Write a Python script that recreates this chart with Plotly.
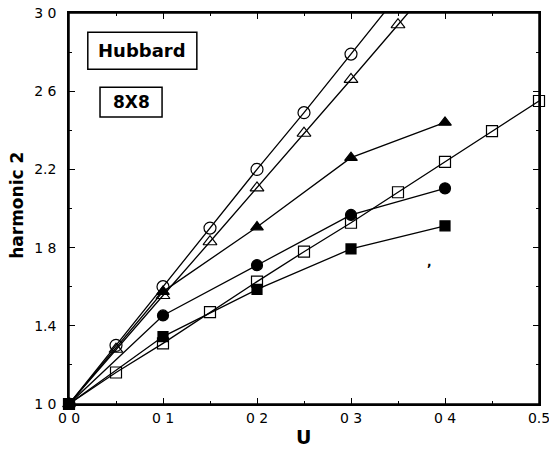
import plotly.graph_objects as go

# ---- data ----
u_circ_open = [0.0, 0.05, 0.10, 0.15, 0.20, 0.25, 0.30, 0.35]
h_circ_open = [1.00, 1.30, 1.60, 1.90, 2.20, 2.49, 2.79, 3.09]

u_tri_open = [0.0, 0.05, 0.10, 0.15, 0.20, 0.25, 0.30, 0.35, 0.40]
h_tri_open = [1.00, 1.28, 1.555, 1.83, 2.105, 2.385, 2.66, 2.94, 3.22]

u_tri_fill = [0.0, 0.10, 0.20, 0.30, 0.40]
h_tri_fill = [1.00, 1.575, 1.905, 2.26, 2.44]

u_circ_fill = [0.0, 0.10, 0.20, 0.30, 0.40]
h_circ_fill = [1.00, 1.453, 1.71, 1.967, 2.103]

u_sq_open = [0.0, 0.05, 0.10, 0.15, 0.20, 0.25, 0.30, 0.35, 0.40, 0.45, 0.50]
h_sq_open = [1.00, 1.161, 1.31, 1.47, 1.626, 1.779, 1.927, 2.083, 2.239, 2.396, 2.55]

u_sq_fill = [0.0, 0.10, 0.20, 0.30, 0.40]
h_sq_fill = [1.00, 1.345, 1.586, 1.793, 1.911]

x_tickvals = [0.0, 0.1, 0.2, 0.3, 0.4, 0.5]
x_ticktext = ["0 0", "0 1", "0 2", "0 3", "0 4", "0.5"]
y_tickvals = [1.0, 1.4, 1.8, 2.2, 2.6, 3.0]
y_ticktext = ["1 0", "1.4", "1 8", "2.2", "2 6", "3 0"]

# ---- figure ----
fig = go.Figure()
line = dict(color="black", width=1.3)

def add(x, y, symbol, size, clip):
    fig.add_trace(go.Scatter(
        x=x, y=y, mode="lines+markers", line=line,
        marker=dict(symbol=symbol, size=size, color="black",
                    line=dict(color="black", width=1.2)),
        cliponaxis=clip, showlegend=False))

add(u_circ_open, h_circ_open, "circle-open", 12, True)
add(u_tri_open, h_tri_open, "triangle-up-open", 12, True)
add(u_tri_fill, h_tri_fill, "triangle-up", 11, False)
add(u_circ_fill, h_circ_fill, "circle", 11, False)
add(u_sq_open, h_sq_open, "square-open", 11, False)
add(u_sq_fill, h_sq_fill, "square", 10, False)

tickfont = dict(family="DejaVu Sans", size=14, color="black")
fig.update_xaxes(
    range=[0, 0.5], tickvals=x_tickvals, ticktext=x_ticktext,
    ticks="inside", ticklen=6, tickwidth=1, tickcolor="black",
    minor=dict(tickvals=[0.05, 0.15, 0.25, 0.35, 0.45], ticks="inside",
               ticklen=3, tickcolor="black"),
    showline=True, linecolor="black", linewidth=1.5, mirror="ticks",
    showgrid=False, zeroline=False, tickfont=tickfont, automargin=False,
    ticklabeloverflow="allow")
fig.update_yaxes(
    range=[1, 3], tickvals=y_tickvals, ticktext=y_ticktext,
    ticks="inside", ticklen=6, tickwidth=1, tickcolor="black",
    minor=dict(tickvals=[1.2, 1.6, 2.0, 2.4, 2.8], ticks="inside",
               ticklen=3, tickcolor="black"),
    showline=True, linecolor="black", linewidth=1.5, mirror="ticks",
    showgrid=False, zeroline=False, tickfont=tickfont,
    ticklabelstandoff=8, automargin=False, ticklabeloverflow="allow")

fig.update_layout(
    width=549, height=449,
    margin=dict(l=69, r=10, t=13, b=45),
    plot_bgcolor="white", paper_bgcolor="white",
    shapes=[
        dict(type="rect", xref="paper", yref="paper",
             x0=0, x1=1, y0=0, y1=1, layer="above",
             line=dict(color="black", width=1.5)),
        dict(type="rect", xref="paper", yref="paper",
             x0=0.040, x1=0.272, y0=0.856, y1=0.951,
             line=dict(color="black", width=1.5), fillcolor="white"),
        dict(type="rect", xref="paper", yref="paper",
             x0=0.066, x1=0.198, y0=0.734, y1=0.810,
             line=dict(color="black", width=1.5), fillcolor="white"),
    ],
    annotations=[
        dict(text="<b>Hubbard</b>", xref="paper", yref="paper",
             x=0.156, y=0.9035, showarrow=False,
             xanchor="center", yanchor="middle",
             font=dict(family="DejaVu Sans", size=18, color="black")),
        dict(text="<b>8X8</b>", xref="paper", yref="paper",
             x=0.132, y=0.772, showarrow=False,
             xanchor="center", yanchor="middle",
             font=dict(family="DejaVu Sans", size=17, color="black")),
        dict(text="<b>harmonic 2</b>", xref="paper", yref="paper",
             x=-0.111, y=0.509, showarrow=False, textangle=-90,
             xanchor="center", yanchor="middle",
             font=dict(family="DejaVu Sans", size=17, color="black")),
        dict(text="<b>U</b>", xref="paper", yref="paper",
             x=0.498, y=-0.085, showarrow=False,
             xanchor="center", yanchor="middle",
             font=dict(family="DejaVu Sans", size=19, color="black")),
        dict(text="<b>,</b>", xref="paper", yref="paper",
             x=0.766, y=0.362, showarrow=False,
             xanchor="center", yanchor="middle",
             font=dict(family="DejaVu Sans", size=12, color="black")),
    ],
)

fig.write_html(
    "out.html",
    config={"displayModeBar": False},
    post_script="document.body.style.margin='0';"
                "document.documentElement.style.overflow='hidden';",
)
